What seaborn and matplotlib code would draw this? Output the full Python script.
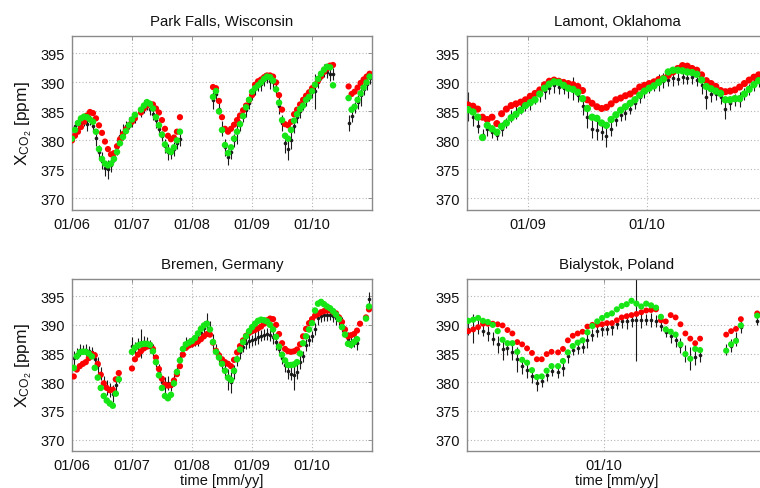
import numpy as np
import pandas as pd
import matplotlib
matplotlib.use("Agg")
import matplotlib.pyplot as plt
import matplotlib.dates as mdates
import seaborn as sns

# ---------------------------------------------------------------------------
# XCO2 time series at four sites.  Each site: segment start times (decimal
# years), a fixed sampling step, and per-segment values for the three series
# (black = measurements with uncertainty, red and green = model series).
# ---------------------------------------------------------------------------
TITLES = ["Park Falls, Wisconsin", "Lamont, Oklahoma",
          "Bremen, Germany", "Bialystok, Poland"]

# Park Falls, Wisconsin
PF_STEP = 0.05
PF_START = [2006.00, 2007.15, 2008.35, 2010.61]
PF_GREEN = [
    [380.3, 381.8, 383.0, 383.8, 384.1, 384.0, 383.6, 383.2, 381.5, 378.5, 376.8,
     376.0, 375.7, 376.0, 376.8, 378.0, 379.5, 380.6, 381.6, 382.6, 383.6, 384.4],
    [385.3, 386.0, 386.6, 386.3, 385.5, 384.0, 382.6, 381.0, 379.3, 378.3, 378.0,
     378.8, 380.0, 381.5],
    [387.5, 388.5, 385.0, 381.8, 379.2, 377.8, 378.8, 380.3, 381.5, 382.8, 384.2,
     385.7, 387.0, 388.4, 389.0, 389.5, 390.0, 390.6, 391.0, 390.9, 390.3, 388.8,
     386.5, 383.5, 380.8, 380.3, 381.8, 383.4, 384.5, 385.4, 386.0, 387.0, 387.5,
     388.5, 389.6, 390.6, 391.5, 392.2, 392.7, 392.6, 389.5],
    [387.3, 385.3, 385.8, 387.0, 388.1, 389.1, 390.0, 391.0],
]
PF_RED = [
    [380.0, 380.8, 381.5, 382.3, 383.2, 384.3, 384.9, 384.7, 383.8, 382.6, 381.3,
     379.8, 378.5, 377.6, 377.8, 379.0, 380.2, 381.1, 381.9, 382.6, 383.2, 383.8],
    [384.8, 385.5, 386.0, 386.3, 386.2, 385.5, 384.8, 383.5, 382.0, 380.8, 380.2,
     380.5, 381.5, 384.0],
    [389.2, 389.0, 386.8, 384.0, 382.0, 381.5, 382.0, 382.7, 383.5, 384.3, 385.2,
     386.0, 386.9, 387.8, 389.6, 390.2, 390.5, 390.9, 391.2, 391.2, 391.0, 390.0,
     387.8, 385.3, 382.8, 382.6, 383.2, 384.5, 385.3, 386.2, 387.0, 387.7, 388.3,
     389.0, 389.6, 390.3, 391.0, 391.8, 392.4, 392.9, 393.0],
    [389.3, 388.0, 388.4, 389.1, 389.9, 390.5, 391.0, 391.5],
]
PF_BLACK = [
    [381.0, 382.5, 382.8, 383.0, 383.4, 382.9, 383.5, 382.5, 380.5, 378.0, 376.5,
     375.2, 375.0, 375.8, 377.2, 378.8, 380.8, 381.5, 382.4, 383.0, 383.5, 383.8],
    [385.0, 385.8, 386.0, 385.5, 384.5, 383.5, 382.0, 380.8, 379.0, 378.0, 377.8,
     378.5, 379.5, 380.2],
    [387.0, 388.0, 385.5, 382.0, 378.8, 377.2, 378.0, 380.0, 381.8, 382.6, 384.0,
     385.2, 386.5, 387.8, 389.0, 389.5, 389.8, 390.5, 390.8, 390.3, 390.0, 389.0,
     386.0, 383.0, 379.5, 378.5, 380.0, 382.5, 384.0, 385.0, 386.2, 387.2, 387.8,
     388.4, 388.5, 390.0, 391.3, 392.0, 391.8, 391.5, 391.5],
    [383.0, 384.2, 385.7, 386.7, 387.9, 388.9, 389.8, 390.7],
]
PF_ERR = [
    [1.2, 0.9, 1.1, 0.8, 1.0, 1.3, 0.9, 1.1, 1.4, 1.2, 1.5, 1.3, 1.6, 1.2, 1.0,
     1.3, 1.1, 1.4, 0.9, 1.0, 1.2, 0.8],
    [0.9, 1.1, 0.8, 1.2, 1.0, 1.3, 1.1, 0.9, 1.2, 1.4, 1.0, 1.2, 0.9, 1.1],
    [1.5, 1.2, 1.0, 1.3, 1.5, 1.4, 1.2, 1.1, 2.5, 1.0, 0.9, 1.2, 1.0, 0.9, 1.1,
     1.0, 1.3, 1.2, 0.9, 1.4, 1.1, 1.2, 1.5, 1.3, 1.6, 1.8, 1.4, 1.2, 1.0, 1.1,
     0.9, 1.2, 1.0, 1.1, 3.0, 1.0, 0.9, 1.1, 1.0, 1.2, 1.0],
    [1.3, 1.1, 1.0, 1.2, 2.0, 1.0, 1.1, 0.9],
]

# Lamont, Oklahoma
LA_STEP = 0.04
LA_START = [2008.50]
LA_GREEN = [[
    385.3, 384.9, 384.0, 380.5, 382.6, 382.0, 381.4, 382.4, 383.0, 383.9,
    384.5, 385.2, 386.0, 386.5, 387.0, 388.0, 389.0, 389.7, 390.1, 390.0,
    389.5, 389.0, 388.8, 388.3, 387.2, 385.5, 384.0, 383.8, 383.0, 382.6,
    383.6, 384.4, 385.2, 385.8, 386.4, 387.0, 387.8, 388.5, 389.0, 389.4,
    390.0, 390.6, 391.8, 392.1, 392.1, 392.0, 391.8, 391.7, 391.4, 390.4,
    389.3, 388.9, 388.5, 388.1, 387.0, 387.0, 387.2, 387.2, 388.0, 388.8,
    389.6, 390.3, 390.8]]
LA_RED = [[
    386.1, 385.9, 385.4, 384.0, 383.6, 384.0, 382.9, 384.6, 385.4, 386.0,
    386.3, 386.6, 387.0, 387.6, 388.1, 388.7, 389.6, 390.2, 390.4, 390.2,
    390.0, 389.8, 389.6, 389.3, 388.6, 387.0, 386.4, 385.8, 385.5, 385.7,
    386.3, 387.0, 387.3, 387.7, 388.0, 388.5, 389.2, 389.5, 389.8, 390.1,
    390.5, 390.7, 391.2, 391.8, 392.4, 392.9, 392.8, 392.4, 392.1, 391.3,
    390.3, 389.8, 389.3, 388.6, 388.4, 388.5, 388.7, 389.2, 389.8, 390.4,
    390.9, 391.3, 391.7]]
LA_BLACK = [[
    385.8, 384.0, 382.5, 381.0, 382.0, 381.5, 381.0, 382.0, 383.0, 384.2,
    384.8, 385.5, 386.0, 386.5, 387.2, 387.8, 388.5, 389.0, 389.5, 389.2,
    389.0, 388.8, 389.0, 387.8, 386.0, 384.0, 382.0, 381.8, 381.5, 380.8,
    382.0, 383.5, 384.3, 384.8, 385.5, 386.5, 387.5, 388.5, 389.0, 389.5,
    390.0, 390.3, 390.5, 390.8, 390.6, 391.0, 390.7, 391.0, 390.5, 389.5,
    387.5, 388.0, 388.0, 387.5, 385.5, 386.5, 387.0, 387.0, 388.0, 388.8,
    389.7, 390.2, 390.8]]
LA_ERR = [[
    2.5, 1.5, 1.2, 1.0, 1.3, 1.1, 1.0, 1.2, 0.9, 1.0,
    1.1, 0.9, 1.0, 1.2, 0.9, 1.1, 1.3, 1.0, 1.4, 1.2,
    1.0, 1.5, 2.0, 1.2, 1.6, 1.8, 1.5, 1.7, 1.4, 2.0,
    1.3, 1.1, 1.0, 1.2, 0.9, 1.1, 1.0, 1.2, 0.9, 1.0,
    1.5, 1.3, 1.2, 1.4, 1.1, 1.3, 1.0, 1.2, 1.1, 1.5,
    2.0, 1.3, 1.1, 1.2, 1.8, 1.2, 1.0, 1.3, 1.1, 1.0,
    1.2, 1.0, 1.1]]

# Bremen, Germany
BR_STEP = 0.05
BR_START = [2006.03, 2007.00, 2008.65, 2010.65]
BR_GREEN = [
    [382.5, 384.5, 385.2, 385.3, 385.3, 385.0, 384.5, 382.5, 380.8, 379.0, 377.6,
     376.8, 376.3, 375.9, 378.0, 380.5],
    [385.3, 386.0, 386.4, 386.6, 386.7, 386.7, 386.5, 385.4, 383.5, 381.2, 379.0,
     377.6, 377.2, 377.8, 379.8, 381.8, 383.8, 385.8, 386.6, 386.9, 387.2, 387.7,
     388.5, 389.3, 389.9, 390.2, 389.2, 387.0, 385.3, 384.3, 383.2, 382.0, 380.8],
    [380.4, 382.0, 384.0, 385.7, 387.0, 388.0, 388.9, 389.6, 390.2, 390.7, 390.9,
     390.8, 390.6, 390.0, 389.2, 387.9, 386.2, 384.8, 383.8, 383.0, 383.0, 383.1,
     383.5, 385.0, 386.8, 388.0, 389.2, 390.3, 392.5, 393.7, 394.0, 393.6, 393.2,
     392.9, 392.4, 391.8, 391.0, 389.6, 388.3, 386.7],
    [386.5, 387.0, 387.5, np.nan, np.nan, 391.1, 393.2],
]
BR_RED = [
    [381.0, 382.2, 382.8, 383.2, 383.5, 384.2, 384.9, 384.7, 383.2, 381.3, 379.8,
     379.0, 378.6, 378.7, 380.5, 381.6],
    [382.4, 384.0, 384.8, 385.4, 385.9, 386.2, 386.5, 385.8, 384.3, 382.3, 380.6,
     379.6, 379.4, 379.5, 380.3, 381.4, 382.8, 384.8, 386.0, 386.4, 386.6, 386.9,
     387.1, 387.5, 388.0, 388.4, 388.3, 386.9, 385.5, 384.7, 384.0, 383.5, 383.2],
    [382.8, 383.9, 385.2, 386.3, 387.3, 388.1, 388.6, 388.9, 389.1, 389.4, 389.7,
     390.2, 390.8, 391.1, 391.0, 390.0, 388.4, 386.8, 385.8, 385.4, 385.3, 385.4,
     385.7, 386.6, 388.0, 389.3, 390.3, 391.0, 391.6, 391.9, 392.2, 392.4, 392.5,
     392.5, 392.3, 392.0, 391.3, 390.5, 389.2, 388.0],
    [388.2, 388.4, 389.0, 390.2, np.nan, 391.3, 392.7],
]
BR_BLACK = [
    [384.2, 385.0, 385.6, 385.7, 385.6, 385.5, 385.2, 384.1, 383.0, 381.5, 380.0,
     379.0, 378.7, 378.0, 379.5, 380.8],
    [386.3, 386.0, 386.5, 386.8, 387.0, 386.9, 386.2, 385.4, 383.6, 381.8, 380.0,
     379.5, 379.8, 379.4, 380.5, 382.0, 384.3, 386.0, 386.8, 386.9, 387.0, 387.3,
     387.6, 388.5, 389.4, 390.5, 389.5, 387.0, 385.5, 384.4, 383.2, 382.2, 380.5],
    [380.0, 381.8, 383.8, 385.2, 386.2, 386.8, 387.2, 387.3, 387.6, 387.9, 388.1,
     388.3, 388.4, 388.2, 387.8, 387.0, 385.8, 384.2, 383.0, 382.0, 381.5, 381.2,
     381.8, 383.5, 384.5, 386.5, 387.3, 388.0, 389.3, 391.2, 391.5, 391.8, 391.8,
     391.7, 391.5, 391.2, 390.8, 390.0, 388.8, 387.5],
    [387.0, 387.3, 386.8, np.nan, np.nan, np.nan, 394.5],
]
BR_ERR = [
    [1.2, 0.9, 1.0, 0.8, 1.1, 0.9, 1.0, 1.2, 1.4, 1.1, 1.0, 1.3, 1.2, 1.5, 1.1, 1.0],
    [1.5, 1.0, 1.2, 2.5, 1.0, 0.9, 1.1, 1.2, 1.0, 1.3, 1.1, 1.4, 1.2, 1.0, 1.1,
     1.0, 0.9, 1.0, 1.1, 0.8, 0.9, 1.0, 1.2, 1.1, 1.3, 1.6, 1.2, 1.4, 1.1, 1.0,
     1.2, 1.3, 1.8],
    [1.8, 1.2, 1.0, 1.1, 0.9, 1.0, 1.2, 0.9, 1.1, 1.3, 1.0, 0.9, 1.1, 1.0, 1.2,
     1.3, 1.1, 1.0, 1.2, 1.4, 1.1, 2.5, 1.3, 1.2, 1.0, 1.1, 0.9, 1.0, 1.1, 1.3,
     1.0, 1.2, 1.1, 0.9, 1.0, 1.2, 1.1, 1.3, 1.0, 1.2],
    [1.0, 1.2, 1.1, np.nan, np.nan, np.nan, 1.2],
]

# Bialystok, Poland
BI_STEP = 0.03
BI_START = [2009.17, 2009.72, 2009.96, 2010.75, 2010.94]
BI_GREEN = [
    [390.7, 390.9, 391.2, 390.7, 390.5, 390.0, 388.9, 387.4, 386.8, 386.8, 385.3,
     383.9, 383.4, 382.1, 380.9, 381.0, 382.0, 382.8],
    [382.8, 383.7, 385.2, 386.3, 386.9, 387.3, 388.7, 389.8],
    [390.6, 391.2, 391.7, 392.0, 392.7, 393.3, 393.6, 394.2, 393.7, 393.2, 393.7,
     393.4, 393.0, 391.4, 389.2, 388.8, 388.3, 386.6, 384.9, 384.1, 385.8, 385.6],
    [385.5, 386.6, 387.2, 389.9],
    [391.6],
]
BI_RED = [
    [388.9, 389.2, 389.6, 390.2, 390.2, 390.2, 390.1, 389.9, 389.1, 388.5, 387.0,
     386.6, 385.9, 385.1, 384.0, 384.0, 384.9, 385.3],
    [385.2, 385.8, 387.3, 388.1, 388.5, 388.8, 389.7, 390.0],
    [390.0, 390.1, 390.3, 390.3, 390.8, 391.3, 391.5, 391.7, 391.9, 392.2, 392.5,
     392.6, 392.7, 390.8, 390.6, 391.7, 391.3, 390.1, 388.5, 387.6, 386.8, 387.6],
    [388.3, 388.9, 389.3, 391.0],
    [392.0],
]
BI_BLACK = [
    [389.3, 389.4, 389.6, 389.0, 388.5, 387.6, 386.6, 385.8, 386.0, 385.2, 384.0,
     382.8, 382.2, 381.0, 379.8, 380.2, 381.3, 382.0],
    [381.8, 382.5, 384.5, 385.6, 385.9, 386.2, 387.3, 388.2],
    [388.9, 389.2, 389.3, 389.6, 390.2, 390.6, 390.7, 390.8, 390.9, 390.8, 390.9,
     390.8, 390.7, 389.8, 388.8, 388.0, 387.3, 386.4, 385.0, 384.1, 384.4, 384.7],
    [385.7, 386.4, 387.6, 389.6],
    [390.7],
]
BI_ERR = [
    [1.0, 2.5, 1.2, 1.0, 1.3, 1.1, 1.5, 2.0, 1.2, 1.4, 2.2, 1.3, 1.5, 1.2, 1.3,
     1.0, 1.1, 0.9],
    [1.0, 1.5, 1.2, 0.9, 1.0, 1.1, 1.3, 1.0],
    [1.0, 1.2, 1.1, 1.3, 1.0, 1.2, 1.4, 1.1, 7.2, 1.3, 1.0, 1.2, 1.1, 0.9, 1.0,
     1.2, 1.1, 1.3, 1.5, 2.0, 1.4, 1.2],
    [1.0, 1.1, 1.2, 1.0],
    [0.8],
]

# x-range of each panel (decimal years) and the years that get a "01/yy" tick
XRANGES = [(2006.0, 2011.0), (2008.49, 2011.01), (2006.0, 2011.0), (2009.162, 2011.0)]
TICK_YEARS = [[2006, 2007, 2008, 2009, 2010], [2009, 2010],
              [2006, 2007, 2008, 2009, 2010], [2010]]
Y_TICKS = [370, 375, 380, 385, 390, 395]
Y_RANGE = (368, 398)

RED = "#ff0000"
GREEN = "#16e516"


def decimal_to_date(t):
    y = int(np.floor(t))
    start = pd.Timestamp(year=y, month=1, day=1)
    end = pd.Timestamp(year=y + 1, month=1, day=1)
    return start + (end - start) * (t - y)


def site_frame(starts, step, green, red, black, err):
    rows = []
    for t0, g, r, b, e in zip(starts, green, red, black, err):
        for i in range(len(g)):
            rows.append({"date": decimal_to_date(t0 + i * step),
                         "green": g[i], "red": r[i], "black": b[i], "err": e[i]})
    return pd.DataFrame(rows)


SITE_DATA = [
    site_frame(PF_START, PF_STEP, PF_GREEN, PF_RED, PF_BLACK, PF_ERR),
    site_frame(LA_START, LA_STEP, LA_GREEN, LA_RED, LA_BLACK, LA_ERR),
    site_frame(BR_START, BR_STEP, BR_GREEN, BR_RED, BR_BLACK, BR_ERR),
    site_frame(BI_START, BI_STEP, BI_GREEN, BI_RED, BI_BLACK, BI_ERR),
]
# marker areas (pt^2) per panel: the Lamont panel is stretched in time
MARKER_S = [20, 26, 20, 18]

sns.set_theme(style="white")
plt.rcParams["font.family"] = ["Liberation Sans", "DejaVu Sans"]
plt.rcParams["mathtext.fontset"] = "custom"
plt.rcParams["mathtext.rm"] = "Liberation Sans"
plt.rcParams["mathtext.it"] = "Liberation Sans:italic"

fig = plt.figure(figsize=(7.6, 4.89), dpi=100)
W, H = 760.0, 489.0
# axes boxes in pixels: left, top, width, height (right column runs off the page)
boxes = [(72, 37, 300, 174), (467, 37, 300, 174),
         (72, 280, 300, 172), (467, 280, 300, 172)]

frame_col = "#8a8a8a"
for k, (df, title, xr, box) in enumerate(zip(SITE_DATA, TITLES, XRANGES, boxes)):
    l, t, w, h = box
    ax = fig.add_axes([l / W, 1 - (t + h) / H, w / W, h / H])
    s = MARKER_S[k]

    ax.errorbar(df["date"], df["black"], yerr=df["err"], fmt="o", color="k",
                ms=2.6, mew=0, elinewidth=0.8, capsize=0, zorder=2)
    sns.scatterplot(data=df, x="date", y="red", color=RED, s=s,
                    edgecolor="none", linewidth=0, ax=ax, zorder=3)
    sns.scatterplot(data=df, x="date", y="green", color=GREEN, s=s + 2,
                    edgecolor="none", linewidth=0, ax=ax, zorder=4)

    ax.set_xlim(decimal_to_date(xr[0]), decimal_to_date(xr[1]))
    ax.set_ylim(*Y_RANGE)
    ax.set_yticks(Y_TICKS)
    ax.set_xticks([pd.Timestamp(year=y, month=1, day=1) for y in TICK_YEARS[k]])
    ax.xaxis.set_major_formatter(mdates.DateFormatter("%m/%y"))

    ax.grid(True, linestyle=(0, (1, 2)), color="#b4b4b4", linewidth=0.8)
    ax.set_axisbelow(True)
    for sp in ax.spines.values():
        sp.set_color(frame_col)
        sp.set_linewidth(1.0)
    ax.tick_params(axis="both", direction="in", length=3, width=0.6,
                   color=frame_col, labelsize=10.5, labelcolor="#111111",
                   top=True, right=True, pad=5)

    ax.set_title(title, fontsize=10.8, pad=8, color="#111111")
    ax.set_xlabel("")
    ax.set_ylabel("")
    if k % 2 == 0:
        ax.set_ylabel(r"X$_{\mathrm{CO}_{2}}$ [ppm]", fontsize=12.5, color="#111111",
                      labelpad=5)
    if k >= 2:
        ax.set_xlabel("time [mm/yy]", fontsize=10.5, color="#111111", labelpad=1)

fig.savefig("out.png", dpi=100)
